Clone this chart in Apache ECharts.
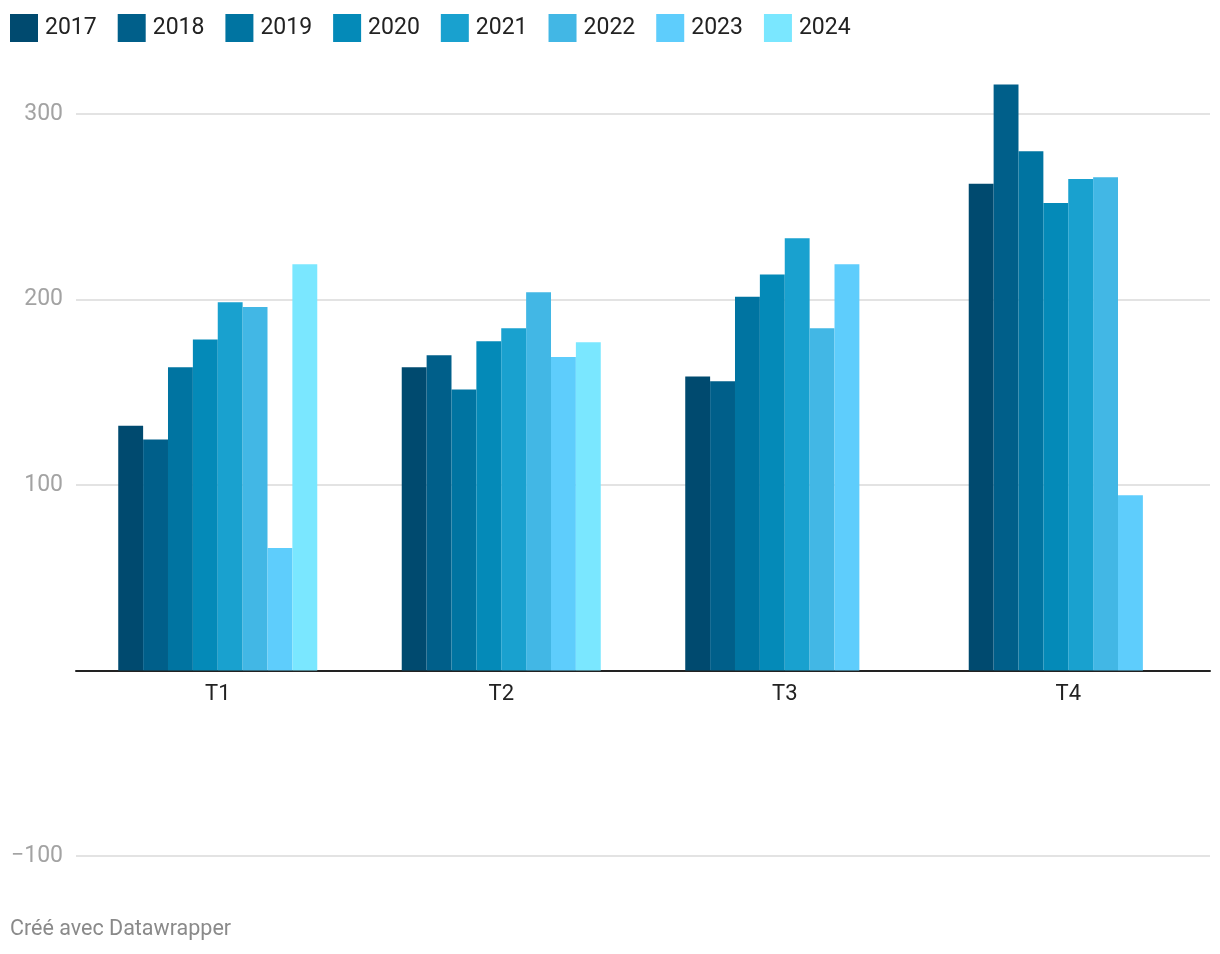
<!DOCTYPE html>
<html>
<head>
<meta charset="utf-8">
<script src="https://cdn.jsdelivr.net/npm/echarts@6/dist/echarts.min.js"></script>
<style>
html,body{margin:0;padding:0;background:#fff;}
#chart{width:1220px;height:954px;}
</style>
</head>
<body>
<div id="chart"></div>
<script>
const categories = ['T1', 'T2', 'T3', 'T4'];
const years = ['2017', '2018', '2019', '2020', '2021', '2022', '2023', '2024'];
const v2017 = [132, 163.5, 158.5, 262.5];
const v2018 = [124.5, 170, 156, 316];
const v2019 = [163.5, 151.5, 201.5, 280];
const v2020 = [178.5, 177.5, 213.5, 252];
const v2021 = [198.5, 184.5, 233, 265];
const v2022 = [196, 204, 184.5, 266];
const v2023 = [66, 169, 219, 94.5];
const v2024 = [219, 177, null, null];
const yTicks = [-100, 0, 100, 200, 300];

const seriesValues = [v2017, v2018, v2019, v2020, v2021, v2022, v2023, v2024];
const colors = ['#004a6f', '#005f8a', '#0074a1', '#048ab8', '#19a1cf', '#42b7e5', '#5ecdfc', '#7ae7ff'];

const chart = echarts.init(document.getElementById('chart'), null, {renderer: 'canvas'});
const font = 'Roboto, "Noto Sans", sans-serif';

chart.setOption({
  animation: false,
  color: colors,
  textStyle: {fontFamily: font},
  title: {
    text: 'Créé avec Datawrapper',
    left: 10, top: 919,
    textStyle: {fontFamily: font, fontSize: 21.5, fontWeight: 'normal', color: '#8a8a8a'},
    padding: 0
  },
  legend: {
    left: 10, top: 14,
    padding: 0,
    itemWidth: 28, itemHeight: 28,
    itemGap: 21,
    icon: 'rect',
    selectedMode: false,
    data: years,
    textStyle: {fontFamily: font, fontSize: 23, color: '#222', padding: [0, 0, 0, 2]}
  },
  grid: {left: 76, right: 10, top: 77, bottom: 98, containLabel: false},
  xAxis: {
    type: 'category',
    data: categories,
    axisLine: {onZero: false, lineStyle: {color: '#222', width: 2}},
    axisTick: {show: false},
    axisLabel: {fontFamily: font, fontSize: 22, color: '#222', margin: 13}
  },
  yAxis: {
    type: 'value',
    min: -100, max: 320, interval: 100,
    axisLine: {show: false},
    axisTick: {show: false},
    splitLine: {show: true, showMaxLine: false, lineStyle: {color: '#e3e3e3', width: 2}},
    axisLabel: {
      showMaxLabel: false,
      fontFamily: font, fontSize: 23, color: '#a3a3a3', margin: 13,
      formatter: function (v) {
        if (yTicks.indexOf(v) < 0 || v === 0) return '';
        return v < 0 ? '\u2212' + Math.abs(v) : String(v);
      }
    }
  },
  series: years.map(function (y, i) {
    return {
      name: y,
      type: 'bar',
      data: seriesValues[i],
      barGap: '0%',
      barCategoryGap: '29.8%',
      itemStyle: {color: colors[i]}
    };
  })
});

// Move the category axis (line + labels) up to the zero value of the y scale
const yZero = chart.convertToPixel({yAxisIndex: 0}, 0);
const yMin = chart.convertToPixel({yAxisIndex: 0}, -100);
chart.setOption({xAxis: {offset: -(yMin - yZero)}});
</script>
</body>
</html>
